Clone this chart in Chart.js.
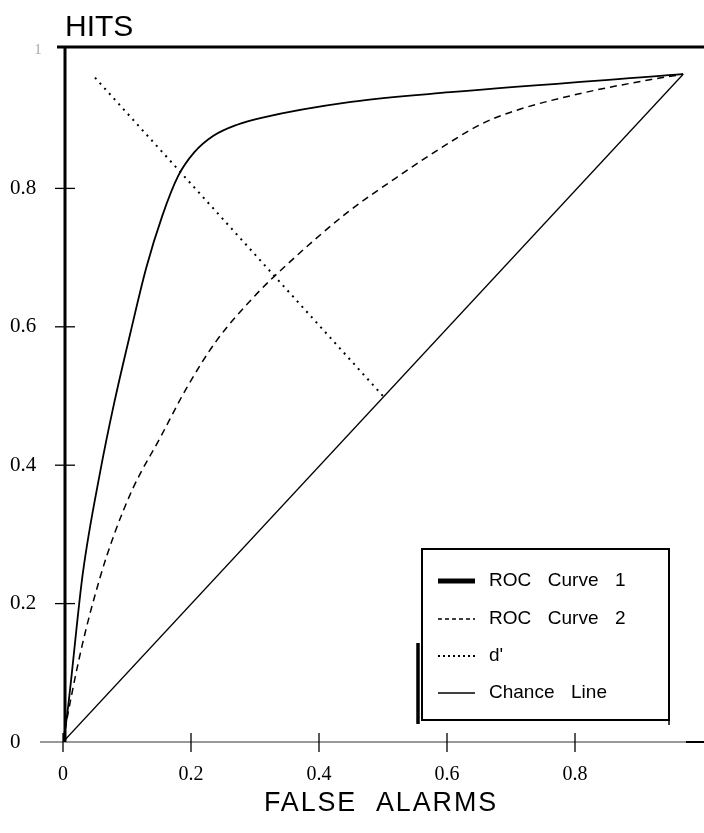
<!DOCTYPE html>
<html>
<head>
<meta charset="utf-8">
<script src="https://cdn.jsdelivr.net/npm/chart.js@4.4.1/dist/chart.umd.min.js"></script>
<style>
  html, body { margin: 0; padding: 0; background: #fff; }
  #wrap { width: 704px; height: 833px; }
</style>
</head>
<body>
<div id="wrap"><canvas id="roc" width="704" height="833"></canvas></div>
<script>
// values (false alarm rate, hit rate)
var seriesNames = ['ROC  Curve  1', 'ROC  Curve  2', "d'", 'Chance  Line'];

var curve1X = [0, 0.006, 0.031, 0.058, 0.08, 0.105, 0.13, 0.155, 0.18, 0.205, 0.235, 0.272, 0.31, 0.45, 0.605, 0.969];
var curve1Y = [0, 0.036, 0.244, 0.39, 0.49, 0.59, 0.685, 0.76, 0.818, 0.852, 0.876, 0.892, 0.902, 0.925, 0.939, 0.965];

var curve2X = [0, 0.008, 0.03, 0.058, 0.08, 0.109, 0.152, 0.194, 0.24, 0.3, 0.35, 0.444, 0.52, 0.578, 0.656, 0.709, 0.8125, 0.917, 0.969];
var curve2Y = [0, 0.042, 0.14, 0.238, 0.3, 0.366, 0.44, 0.513, 0.58, 0.645, 0.69, 0.765, 0.815, 0.851, 0.894, 0.913, 0.938, 0.957, 0.965];

var dPrimeX = [0.05, 0.5];
var dPrimeY = [0.96, 0.5];

var chanceX = [0, 0.969];
var chanceY = [0, 0.965];

var xTicks = [0, 0.2, 0.4, 0.6, 0.8];
var yTicks = [0, 0.2, 0.4, 0.6, 0.8];
var yTopLabel = '1';

function pts(xs, ys) {
  return xs.map(function (x, i) { return { x: x, y: ys[i] }; });
}

var styles = [
  { width: 1.8, dash: [], legendWidth: 5, legendDash: [] },
  { width: 1.5, dash: [7, 5], legendWidth: 1.5, legendDash: [4, 3] },
  { width: 2, dash: [2, 5], legendWidth: 2, legendDash: [2, 3] },
  { width: 1.3, dash: [], legendWidth: 1.5, legendDash: [] }
];

var data = {
  datasets: [pts(curve1X, curve1Y), pts(curve2X, curve2Y), pts(dPrimeX, dPrimeY), pts(chanceX, chanceY)].map(function (d, i) {
    return {
      label: seriesNames[i],
      data: d,
      showLine: true,
      borderColor: '#000',
      backgroundColor: '#000',
      borderWidth: styles[i].width,
      borderDash: styles[i].dash,
      pointRadius: 0,
      cubicInterpolationMode: 'monotone',
      fill: false
    };
  })
};

var framePlugin = {
  id: 'frame',
  afterDraw: function (chart) {
    var ctx = chart.ctx;
    var xs = chart.scales.x, ys = chart.scales.y;
    var x0 = xs.getPixelForValue(0), y0 = ys.getPixelForValue(0), y1 = ys.getPixelForValue(1);
    ctx.save();
    ctx.strokeStyle = '#000';
    ctx.setLineDash([]);

    // bottom axis, thin grey
    ctx.strokeStyle = '#777';
    ctx.lineWidth = 1.5;
    ctx.beginPath(); ctx.moveTo(40, y0); ctx.lineTo(704, y0); ctx.stroke();
    ctx.strokeStyle = '#000';
    ctx.lineWidth = 2;
    ctx.beginPath(); ctx.moveTo(686, y0); ctx.lineTo(704, y0); ctx.stroke();

    // left axis, heavy
    ctx.lineWidth = 3;
    ctx.beginPath(); ctx.moveTo(x0 + 2, y1 - 3); ctx.lineTo(x0 + 2, y0); ctx.stroke();
    // top rule
    ctx.beginPath(); ctx.moveTo(57, y1 - 3); ctx.lineTo(704, y1 - 3); ctx.stroke();

    // tick marks crossing the axes
    ctx.lineWidth = 1.3;
    xTicks.forEach(function (v) {
      var px = xs.getPixelForValue(v);
      ctx.beginPath(); ctx.moveTo(px, y0 - 9); ctx.lineTo(px, y0 + 10); ctx.stroke();
    });
    yTicks.forEach(function (v) {
      if (v === 0) return;
      var py = ys.getPixelForValue(v);
      ctx.beginPath(); ctx.moveTo(x0 - 8, py); ctx.lineTo(x0 + 12, py); ctx.stroke();
    });

    // faint "1" at the top of the y axis
    ctx.fillStyle = '#aaa';
    ctx.font = '15px "Liberation Serif"';
    ctx.textAlign = 'center';
    ctx.textBaseline = 'middle';
    ctx.fillText(yTopLabel, 38, y1);

    // axis titles
    ctx.fillStyle = '#000';
    ctx.textAlign = 'left';
    ctx.textBaseline = 'alphabetic';
    ctx.font = '30px "Liberation Sans"';
    ctx.letterSpacing = '0px';
    ctx.fillText('HITS', 65, 36);

    ctx.font = '28px "Liberation Sans"';
    ctx.letterSpacing = '2px';
    ctx.textAlign = 'center';
    ctx.save();
    ctx.translate(381, 811);
    ctx.scale(0.96, 1);
    ctx.fillText('FALSE  ALARMS', 0, 0);
    ctx.restore();
    ctx.letterSpacing = '0px';

    // legend box
    ctx.lineWidth = 2;
    ctx.strokeRect(422, 549, 247, 171);
    ctx.lineWidth = 3.5;
    ctx.beginPath(); ctx.moveTo(418, 643); ctx.lineTo(418, 724); ctx.stroke();
    ctx.lineWidth = 1.5;
    ctx.beginPath(); ctx.moveTo(669, 720); ctx.lineTo(669, 725); ctx.stroke();

    var rows = [581, 619, 656, 693];
    ctx.font = '19px "Liberation Sans"';
    ctx.wordSpacing = '3px';
    ctx.textAlign = 'left';
    ctx.textBaseline = 'middle';
    chart.data.datasets.forEach(function (ds, i) {
      var yy = rows[i];
      ctx.lineWidth = styles[i].legendWidth;
      ctx.setLineDash(styles[i].legendDash);
      ctx.beginPath(); ctx.moveTo(438, yy); ctx.lineTo(475, yy); ctx.stroke();
      ctx.setLineDash([]);
      ctx.fillText(ds.label, 489, yy);
    });
    ctx.wordSpacing = '0px';
    ctx.restore();
  }
};

new Chart(document.getElementById('roc'), {
  type: 'scatter',
  data: data,
  options: {
    responsive: false,
    animation: false,
    layout: { padding: { top: 50, right: 1, left: 10, bottom: 0 } },
    plugins: { legend: { display: false }, tooltip: { enabled: false } },
    scales: {
      x: {
        type: 'linear', min: 0, max: 1,
        grid: { display: false, drawTicks: false },
        border: { display: false },
        afterBuildTicks: function (s) { s.ticks = xTicks.map(function (v) { return { value: v }; }); },
        afterFit: function (s) { s.height = 91; },
        ticks: {
          padding: 21, color: '#000',
          font: { family: 'Liberation Serif', size: 20 },
          callback: function (v) { return String(v); }
        }
      },
      y: {
        type: 'linear', min: 0, max: 1,
        grid: { display: false, drawTicks: false },
        border: { display: false },
        afterBuildTicks: function (s) { s.ticks = yTicks.map(function (v) { return { value: v }; }); },
        afterFit: function (s) { s.width = 53; },
        ticks: {
          crossAlign: 'far', color: '#000',
          font: { family: 'Liberation Serif', size: 21 },
          callback: function (v) { return String(v); }
        }
      }
    }
  },
  plugins: [framePlugin]
});
</script>
</body>
</html>
